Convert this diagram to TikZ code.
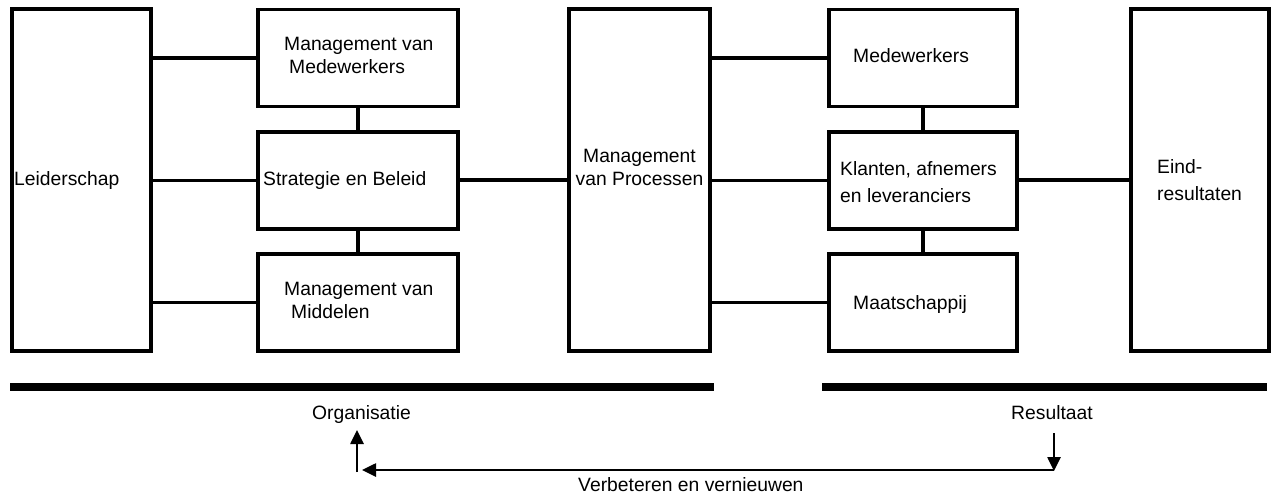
\documentclass[tikz,border=0pt]{standalone}
\usepackage{fontspec}
\setmainfont{Liberation Sans}
\usetikzlibrary{arrows.meta}
\newcommand\tlleft[4]{\vtop{\baselineskip=#1\hbox{#3}\hbox{\hspace*{#2}#4}}}
\newcommand\tlcenter[3]{\vtop{\baselineskip=#1\halign{\hfil##\hfil\cr #2\cr #3\cr}}}
\begin{document}
\begin{tikzpicture}[x=1pt,y=-1pt,
  box/.style={draw=black,line width=3.6pt,inner sep=0pt,minimum width=#1},
  box/.default=200pt,
  tall/.style={box=#1,minimum height=342pt},
  short/.style={minimum height=97pt},
  lbl/.style={inner sep=0pt,anchor=base west,font=\fontsize{19.3}{23}\selectfont},
  clbl/.style={inner sep=0pt,anchor=base,font=\fontsize{19.3}{23}\selectfont},
  conn/.style={draw=black,line width=3.6pt},
  bar/.style={draw=black,line width=8.5pt},
  arr/.style={draw=black,line width=2.6pt,-{Triangle[length=14pt,width=13pt]}}]
\useasboundingbox (0,0) rectangle (1271,493);
% boxes
\node[tall=139pt] (L) at (81.5,180) {};
\node[box,short] (MvM) at (358,58) {};
\node[box,short] (SB) at (358,180.5) {};
\node[box,short] (MM) at (358,302.5) {};
\node[tall=141pt] (P) at (639.5,180) {};
\node[box=188pt,short] (Med) at (923,58) {};
\node[box=188pt,short] (K) at (923,180.5) {};
\node[box=188pt,short] (Ma) at (923,302.5) {};
\node[tall=138pt] (E) at (1200,180) {};
% texts
\node[lbl] (tL) at (14,185) {Leiderschap};
\node[lbl] (tMvM) at (284,50) {\tlleft{23pt}{5pt}{Management van}{Medewerkers}};
\node[lbl] (tSB) at (263,185) {Strategie en Beleid};
\node[lbl] (tMM) at (284,295) {\tlleft{23pt}{7pt}{Management van}{Middelen}};
\node[clbl] (tP) at (639.5,162) {\tlcenter{23pt}{Management}{van Processen}};
\node[lbl] (tMed) at (853,62) {Medewerkers};
\node[lbl] (tK) at (840,175) {\tlleft{27pt}{0pt}{Klanten, afnemers}{en leveranciers}};
\node[lbl] (tMa) at (853,309) {Maatschappij};
\node[lbl] (tE) at (1157,173) {\tlleft{27pt}{0pt}{Eind-}{resultaten}};
\node[clbl] (Org) at (361.5,419) {Organisatie};
\node[clbl] (Res) at (1052,419) {Resultaat};
\node[lbl] (Verb) at (578,491) {Verbeteren en vernieuwen};
% connectors
\foreach \a/\b in {L/MvM,L/SB,L/MM,MvM/P,SB/P,MM/P,P/Med,P/K,P/Ma,Med/E,K/E,Ma/E}
  \draw[conn] (\a.east |- \b.west) -- (\b.west);
\draw[conn] (MvM.south) -- (SB.north);
\draw[conn] (SB.south) -- (MM.north);
\draw[conn] (Med.south) -- (K.north);
\draw[conn] (K.south) -- (Ma.north);
% bars
\draw[bar] (10,387) -- (714,387);
\draw[bar] (822,387) -- (1267,387);
% feedback arrows
\coordinate (upB) at (357,472);
\coordinate (upT) at (357,430);
\coordinate (dnT) at (1054,433);
\coordinate (dnB) at (1054,471);
\coordinate (hR) at (1054,470);
\coordinate (hL) at (362,470);
\draw[arr] (upB) -- (upT);
\draw[arr] (dnT) -- (dnB);
\draw[arr] (hR) -- (hL);
\end{tikzpicture}
\end{document}
